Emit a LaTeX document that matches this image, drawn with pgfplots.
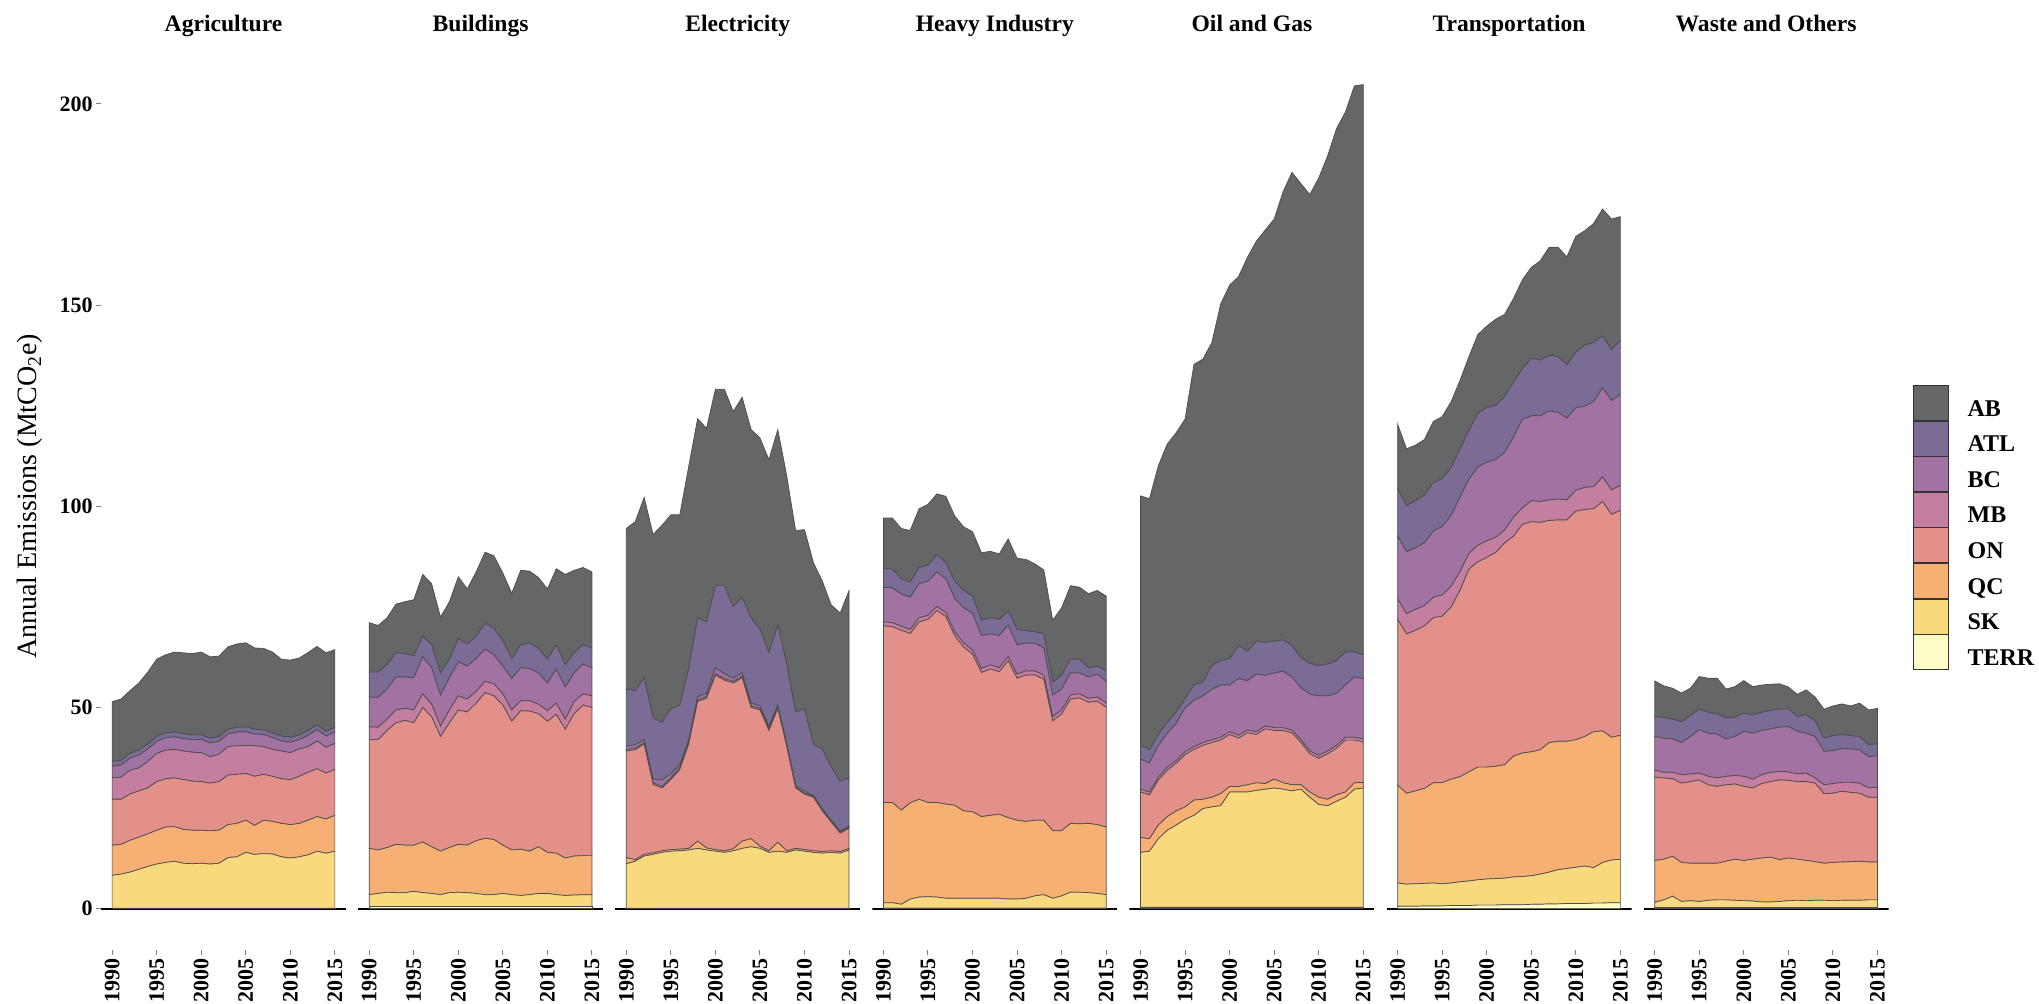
\documentclass[border=0pt]{standalone}
\usepackage{pgfplots}
\pgfplotsset{compat=1.18}
\usepackage{pgfplotstable}
\usepackage{fontspec}
\setmainfont{Liberation Serif}

\definecolor{cAB}{HTML}{656668}
\definecolor{cATL}{HTML}{7B6C96}
\definecolor{cBC}{HTML}{A272A3}
\definecolor{cMB}{HTML}{C47E9F}
\definecolor{cON}{HTML}{E38F8A}
\definecolor{cQC}{HTML}{F6B074}
\definecolor{cSK}{HTML}{F9D97E}
\definecolor{cTERR}{HTML}{FCFDC6}

\pgfplotstableread{
yr TERR SK QC ON MB BC ATL AB
1990 0.1 8.2 7.5 11.4 5.3 2.9 1.2 14.9
1991 0.1 8.5 7.4 11.2 5.5 3.0 1.2 15.2
1992 0.1 9.0 7.9 11.5 5.9 3.0 1.2 15.6
1993 0.1 9.7 8.0 11.5 5.7 3.2 1.2 16.7
1994 0.1 10.4 8.1 11.4 6.6 3.1 1.2 17.9
1995 0.1 11.0 8.4 12.1 7.0 3.0 1.2 19.2
1996 0.1 11.4 8.8 12.0 7.1 3.1 1.2 19.4
1997 0.1 11.7 8.6 12.1 7.1 3.1 1.2 19.9
1998 0.1 11.2 8.4 12.4 7.1 3.1 1.2 20.1
1999 0.1 11.1 8.3 12.2 7.2 3.1 1.2 20.2
2000 0.1 11.2 8.2 12.1 7.2 3.3 1.2 20.5
2001 0.1 11.0 8.3 11.8 6.6 3.4 1.2 20.2
2002 0.1 11.2 8.2 12.1 6.8 3.2 1.2 20.0
2003 0.1 12.6 8.2 12.3 7.1 3.1 1.2 20.5
2004 0.1 12.8 8.3 12.2 7.1 3.4 1.2 20.7
2005 0.1 13.9 8.0 11.6 7.0 3.4 1.2 20.9
2006 0.1 13.4 7.2 12.2 7.6 2.9 1.2 20.2
2007 0.1 13.6 8.3 11.4 6.9 3.0 1.2 20.2
2008 0.1 13.5 8.1 11.2 6.7 2.9 1.2 20.1
2009 0.1 12.8 8.3 11.1 6.9 2.5 1.2 19.1
2010 0.1 12.5 8.3 11.2 6.7 2.6 1.2 19.2
2011 0.1 12.8 8.3 11.7 6.8 2.3 1.2 19.1
2012 0.1 13.3 8.6 11.9 6.4 2.8 1.2 19.4
2013 0.1 14.2 8.6 11.9 6.9 2.8 1.2 19.5
2014 0.1 13.7 8.5 11.4 6.4 2.8 1.2 19.5
2015 0.1 14.2 8.9 11.4 6.5 2.8 1.2 19.3
}\agri

\pgfplotstableread{
yr TERR SK QC ON MB BC ATL AB
1990 0.5 3.0 11.5 27.0 3.2 7.4 6.2 12.3
1991 0.5 3.3 10.8 27.4 3.1 7.4 6.3 11.6
1992 0.5 3.6 11.1 29.1 2.8 7.5 6.0 11.7
1993 0.5 3.5 12.0 30.2 3.2 8.2 6.1 12.0
1994 0.5 3.5 11.8 31.0 3.0 7.8 5.8 12.9
1995 0.5 3.8 11.5 30.4 3.2 8.0 5.5 13.9
1996 0.5 3.5 12.6 33.4 3.4 9.2 5.1 15.4
1997 0.5 3.3 11.6 32.3 3.1 9.1 5.7 15.2
1998 0.5 3.0 10.8 28.5 2.6 7.7 5.5 13.9
1999 0.5 3.5 11.2 31.0 3.2 8.0 4.6 14.3
2000 0.5 3.6 11.9 33.4 3.5 8.5 5.7 15.4
2001 0.5 3.5 11.8 33.1 3.2 8.2 5.5 13.7
2002 0.5 3.3 13.1 34.2 2.9 8.2 5.5 16.0
2003 0.5 3.0 14.0 36.2 2.8 8.0 6.4 17.7
2004 0.5 3.0 13.7 35.7 3.0 7.2 6.6 18.0
2005 0.5 3.3 12.0 34.8 2.8 6.9 6.3 16.8
2006 0.5 3.0 11.1 32.0 2.8 7.8 5.0 16.2
2007 0.5 2.8 11.5 34.4 2.5 8.2 5.7 18.5
2008 0.5 3.0 10.8 34.8 2.6 8.0 6.3 17.9
2009 0.5 3.3 11.6 33.1 2.3 7.8 6.1 17.6
2010 0.5 3.3 10.2 32.6 2.6 6.9 5.9 17.5
2011 0.5 3.0 10.3 34.5 2.8 8.4 6.1 18.9
2012 0.5 2.8 9.3 32.0 2.5 8.0 5.5 22.5
2013 0.5 2.9 9.7 35.4 3.0 7.1 5.1 20.4
2014 0.5 3.0 9.7 37.4 2.8 7.4 4.8 19.2
2015 0.5 3.0 9.7 36.8 2.9 7.0 4.9 18.9
}\bldg

\pgfplotstableread{
yr TERR SK QC ON MB BC ATL AB
1990 0.1 11.1 1.5 26.5 0.4 0.8 14.2 39.9
1991 0.1 11.7 0.4 27.3 0.4 0.8 13.5 42.0
1992 0.1 13.0 0.4 27.4 0.4 0.8 15.3 44.8
1993 0.1 13.4 0.4 17.0 0.4 0.9 15.2 45.6
1994 0.1 13.9 0.4 15.6 0.4 1.6 14.3 49.0
1995 0.1 14.2 0.4 17.4 0.4 1.0 16.2 48.2
1996 0.1 14.3 0.4 19.8 0.4 0.8 14.8 47.3
1997 0.1 14.5 0.4 25.9 0.4 0.6 17.8 50.2
1998 0.1 14.9 1.8 34.7 0.4 0.8 19.6 49.5
1999 0.1 14.5 0.5 37.2 0.4 0.8 17.8 48.1
2000 0.1 14.2 0.4 43.3 0.4 1.5 20.4 48.8
2001 0.1 13.9 0.4 42.4 0.4 1.2 21.9 48.8
2002 0.1 14.3 0.5 41.2 0.4 0.8 17.8 48.5
2003 0.1 14.9 1.8 40.6 0.4 0.8 18.8 49.7
2004 0.1 15.3 2.0 32.6 0.4 0.7 21.2 46.8
2005 0.1 14.9 0.5 33.9 0.4 0.6 19.0 47.6
2006 0.1 13.9 0.4 29.9 0.4 0.6 18.4 47.9
2007 0.1 14.2 2.2 33.2 0.4 0.5 19.9 48.6
2008 0.1 13.9 0.4 25.9 0.2 0.5 19.8 46.8
2009 0.1 14.5 0.4 15.0 0.2 0.5 18.2 45.1
2010 0.1 14.2 0.4 13.8 0.2 0.5 20.5 44.5
2011 0.1 13.9 0.4 13.3 0.2 0.3 12.7 45.1
2012 0.1 13.7 0.4 10.1 0.2 0.3 14.9 41.7
2013 0.1 13.9 0.4 7.1 0.2 0.3 13.2 40.3
2014 0.1 13.7 0.4 4.6 0.2 0.3 12.4 41.8
2015 0.1 14.5 0.4 5.0 0.2 0.3 12.0 46.6
}\elec

\pgfplotstableread{
yr TERR SK QC ON MB BC ATL AB
1990 0.2 1.3 24.9 43.9 1.0 8.6 4.6 12.6
1991 0.2 1.3 24.9 43.7 1.0 8.6 4.8 12.6
1992 0.2 0.9 23.4 44.7 1.0 8.0 3.8 12.5
1993 0.2 2.2 23.9 42.1 1.0 8.0 3.8 12.8
1994 0.2 2.7 24.3 44.1 1.0 8.5 4.0 14.6
1995 0.2 2.8 23.4 45.5 1.0 8.5 4.0 15.1
1996 0.2 2.7 23.5 47.7 1.0 8.6 4.3 15.1
1997 0.2 2.4 23.4 46.6 1.0 8.4 4.0 16.5
1998 0.2 2.4 23.1 42.1 1.0 8.3 4.3 16.2
1999 0.2 2.4 21.7 40.7 1.0 8.8 4.3 15.8
2000 0.2 2.4 21.5 39.2 1.0 9.1 4.3 16.0
2001 0.2 2.4 20.3 35.8 1.0 8.2 3.8 16.8
2002 0.2 2.4 20.6 36.4 1.0 7.7 4.0 16.5
2003 0.2 2.4 20.9 35.4 1.0 8.0 4.0 16.3
2004 0.2 2.2 20.2 39.0 1.0 7.9 3.5 17.9
2005 0.2 2.2 19.6 35.3 1.0 7.3 3.8 17.7
2006 0.2 2.4 19.1 36.4 1.0 6.9 3.1 17.7
2007 0.2 3.0 18.8 36.1 1.0 6.9 2.8 16.9
2008 0.2 3.3 18.5 35.0 1.0 6.8 3.5 15.9
2009 0.2 2.4 16.8 27.3 1.0 5.4 3.2 15.4
2010 0.2 3.0 16.2 29.0 1.0 5.2 3.4 16.8
2011 0.2 3.9 17.1 30.9 1.0 5.5 3.4 18.3
2012 0.2 3.9 17.0 31.3 1.0 5.2 3.4 17.9
2013 0.2 3.8 17.2 30.1 1.0 5.3 2.3 18.4
2014 0.2 3.6 17.1 30.7 1.0 5.7 2.0 18.8
2015 0.2 3.3 16.8 29.8 1.0 5.4 2.6 18.6
}\heavy

\pgfplotstableread{
yr TERR SK QC ON MB BC ATL AB
1990 0.4 13.6 3.7 11.3 0.7 7.5 3.4 62.0
1991 0.4 13.9 3.1 10.9 0.7 7.2 3.3 62.4
1992 0.4 17.0 3.4 11.2 0.7 7.9 2.7 66.8
1993 0.4 19.1 3.4 11.5 0.7 8.5 2.7 69.2
1994 0.4 20.4 3.5 11.8 0.7 9.2 2.8 69.5
1995 0.4 21.8 3.1 13.0 0.7 10.9 2.3 69.5
1996 0.4 22.8 3.8 12.6 0.7 11.5 3.8 79.7
1997 0.4 24.5 2.3 13.4 0.7 11.6 3.4 80.3
1998 0.4 24.9 2.4 13.6 0.7 12.5 5.9 80.3
1999 0.4 25.2 3.0 13.3 0.7 13.0 6.1 88.6
2000 0.4 28.6 1.4 12.9 0.7 11.6 6.5 92.9
2001 0.4 28.6 1.4 12.0 0.7 14.1 8.2 91.7
2002 0.4 28.6 1.8 12.9 0.7 12.3 7.3 97.9
2003 0.4 29.0 1.9 12.0 0.7 14.3 8.2 99.4
2004 0.4 29.3 1.4 13.6 0.7 12.6 8.2 102.5
2005 0.4 29.6 2.2 12.1 0.7 13.6 7.9 104.9
2006 0.4 29.3 1.6 13.0 0.7 14.0 7.8 111.4
2007 0.4 28.9 1.5 12.9 0.7 13.2 7.8 117.6
2008 0.4 29.3 1.1 10.5 0.7 12.9 7.5 117.8
2009 0.4 27.3 1.3 9.5 0.7 14.1 7.7 116.5
2010 0.4 25.5 1.8 9.7 0.7 14.8 7.5 121.2
2011 0.4 25.2 1.6 11.3 0.7 13.7 7.9 126.3
2012 0.4 26.3 1.6 11.6 0.7 12.9 8.2 132.2
2013 0.4 27.3 1.3 12.9 0.7 13.0 8.2 134.2
2014 0.4 29.3 1.6 10.6 0.7 15.0 6.2 140.7
2015 0.4 29.6 1.3 10.2 0.7 15.0 5.9 141.7
}\oilgas

\pgfplotstableread{
yr TERR SK QC ON MB BC ATL AB
1990 0.6 5.8 24.3 41.2 5.1 15.6 11.7 16.1
1991 0.6 5.5 22.6 39.6 5.0 15.4 11.5 14.1
1992 0.6 5.6 23.1 39.9 5.2 15.3 11.7 13.8
1993 0.7 5.6 23.6 40.4 5.0 15.6 11.9 13.8
1994 0.7 5.7 24.9 41.0 5.1 16.4 12.1 15.2
1995 0.7 5.5 25.1 41.4 5.3 17.0 11.9 15.4
1996 0.8 5.6 25.8 42.8 5.1 17.6 11.9 16.4
1997 0.8 5.9 26.1 46.3 4.7 18.5 12.0 17.0
1998 0.8 6.1 27.1 50.4 3.9 18.4 12.1 18.4
1999 0.9 6.3 28.0 51.0 4.1 19.5 13.3 19.6
2000 0.9 6.5 27.8 52.1 4.1 19.6 13.6 20.2
2001 0.9 6.6 27.9 53.1 3.8 19.3 13.5 21.4
2002 1.0 6.6 28.2 55.1 3.2 19.3 13.8 20.5
2003 1.0 6.9 30.0 54.7 4.7 19.9 13.7 20.7
2004 1.0 7.0 30.7 56.8 4.1 22.0 12.6 22.1
2005 1.1 7.1 30.8 57.2 5.2 21.1 14.3 22.6
2006 1.1 7.5 30.9 56.5 5.2 21.3 13.8 24.7
2007 1.2 7.9 32.2 55.2 5.1 22.1 13.8 26.9
2008 1.2 8.5 31.9 55.0 5.2 21.6 13.8 27.2
2009 1.3 8.7 31.6 55.0 5.0 20.3 13.3 26.8
2010 1.3 9.0 31.7 56.8 5.2 20.5 13.8 28.8
2011 1.3 9.3 32.2 56.4 5.5 20.2 15.2 28.4
2012 1.4 8.8 33.8 55.4 5.5 21.1 14.7 29.6
2013 1.4 10.1 32.7 57.0 6.1 22.2 12.9 31.5
2014 1.5 10.6 30.5 55.4 6.1 22.2 12.6 32.5
2015 1.5 10.8 30.8 55.9 6.2 22.6 13.5 30.7
}\transp

\pgfplotstableread{
yr TERR SK QC ON MB BC ATL AB
1990 0.3 1.3 10.4 20.7 1.7 8.4 5.0 8.8
1991 0.3 1.9 10.1 20.2 1.4 8.5 5.1 7.9
1992 0.3 2.8 9.9 19.3 1.6 8.3 4.9 7.7
1993 0.3 1.5 9.7 19.7 2.1 8.0 5.2 7.1
1994 0.3 1.7 9.3 20.3 1.9 9.3 5.2 6.8
1995 0.3 1.5 9.5 20.7 1.7 10.8 5.1 8.1
1996 0.3 1.8 9.2 19.5 2.1 10.7 5.2 8.5
1997 0.3 1.9 9.1 19.1 2.1 10.9 5.0 8.9
1998 0.3 1.9 9.6 19.0 2.1 9.3 5.2 7.2
1999 0.3 1.8 10.2 18.7 2.1 9.7 4.8 7.6
2000 0.3 1.7 10.0 18.4 2.5 11.2 4.5 8.1
2001 0.3 1.6 10.4 17.7 2.2 11.4 4.6 7.0
2002 0.3 1.4 10.9 18.5 2.2 11.0 4.5 6.8
2003 0.3 1.4 11.1 18.8 2.3 10.8 4.6 6.5
2004 0.3 1.5 10.4 19.8 2.1 11.0 4.5 6.3
2005 0.3 1.7 10.6 19.3 2.1 11.3 4.4 5.4
2006 0.3 1.8 10.2 19.3 1.9 10.6 3.7 5.5
2007 0.3 1.7 10.0 19.6 2.1 9.9 4.6 6.2
2008 0.3 1.8 9.6 19.5 1.3 10.3 3.9 5.9
2009 0.3 1.8 9.2 17.3 2.2 8.3 3.3 7.2
2010 0.3 1.7 9.5 17.2 2.4 8.2 3.7 7.4
2011 0.3 1.8 9.5 17.6 2.2 8.4 3.6 7.5
2012 0.3 1.8 9.6 17.2 2.5 8.3 3.3 7.4
2013 0.3 1.8 9.7 16.9 2.5 8.3 3.3 8.3
2014 0.3 1.9 9.4 16.1 2.3 7.8 3.0 8.6
2015 0.3 1.9 9.4 16.1 2.5 7.8 3.0 8.8
}\waste

\pgfplotsset{
  panel/.style={
    scale only axis, width=122.5pt, height=453.7pt,
    anchor=south west,
    xmin=1988.75, xmax=2016.25, ymin=-10.25, ymax=215.25,
    stack plots=y,
    axis line style={draw=none},
    xtick={1990,1995,2000,2005,2010,2015},
    ytick=\empty,
    xtick pos=bottom, ytick pos=left,
    tick align=outside,
    major tick length=2.5pt,
    tick style={gray, line width=0.5pt},
    xticklabel style={rotate=90, anchor=east, inner sep=1.5pt,
      font=\bfseries\fontsize{11}{11}\selectfont},
    yticklabel style={inner sep=1.5pt, font=\bfseries\fontsize{11}{11}\selectfont},
    /pgf/number format/1000 sep={},
    /pgf/number format/assume math mode=true,
    title style={font=\bfseries\fontsize{11.8}{12}\selectfont,
      at={(axis description cs:0.5,1)}, anchor=base, yshift=-0.4pt},
    legend image code/.code={\draw[#1, draw=black!80, line width=0.3pt]
      (0pt,-5.3pt) rectangle (17.5pt,12.2pt);},
  },
  lay/.style={fill=#1, draw=black!70, line width=0.35pt},
}

\newcommand{\layers}[1]{%
  \addplot[lay=cTERR] table[x=yr,y=TERR]{#1} \closedcycle;
  \addplot[lay=cSK]   table[x=yr,y=SK]{#1} \closedcycle;
  \addplot[lay=cQC]   table[x=yr,y=QC]{#1} \closedcycle;
  \addplot[lay=cON]   table[x=yr,y=ON]{#1} \closedcycle;
  \addplot[lay=cMB]   table[x=yr,y=MB]{#1} \closedcycle;
  \addplot[lay=cBC]   table[x=yr,y=BC]{#1} \closedcycle;
  \addplot[lay=cATL]  table[x=yr,y=ATL]{#1} \closedcycle;
  \addplot[lay=cAB]   table[x=yr,y=AB]{#1} \closedcycle;
  \draw[black, line width=0.8pt] (axis cs:1988.75,0) -- (axis cs:2016.25,0);
}

\begin{document}
\begin{tikzpicture}
\useasboundingbox (0,0) rectangle (1019.5pt,502pt);

\begin{axis}[panel, at={(50.5pt,27pt)}, title={Agriculture},
  ytick={0,50,100,150,200},
  ylabel={Annual Emissions (MtCO\textsubscript{2}e)},
  ylabel style={at={(axis description cs:-0.2898,0.5)}, anchor=center,
    font=\fontsize{14}{14}\selectfont}]
\layers{\agri}
\end{axis}

\begin{axis}[panel, at={(179.05pt,27pt)}, title={Buildings}]
\layers{\bldg}
\end{axis}

\begin{axis}[panel, at={(307.6pt,27pt)}, title={Electricity}]
\layers{\elec}
\end{axis}

\begin{axis}[panel, at={(436.15pt,27pt)}, title={Heavy Industry}]
\layers{\heavy}
\end{axis}

\begin{axis}[panel, at={(564.7pt,27pt)}, title={Oil and Gas}]
\layers{\oilgas}
\end{axis}

\begin{axis}[panel, at={(693.25pt,27pt)}, title={Transportation}]
\layers{\transp}
\end{axis}

\begin{axis}[panel, at={(821.8pt,27pt)}, title={Waste and Others},
  reverse legend,
  legend cell align=left,
  legend style={at={(axis description cs:1.0996,0.6227)}, anchor=north west,
    draw=none, fill=none, inner sep=0pt, outer sep=0pt,
    row sep=0pt, column sep=9.5pt,
    nodes={inner sep=0pt, outer sep=0pt},
    font=\bfseries\fontsize{12}{12}\selectfont}]
\layers{\waste}
\legend{TERR,SK,QC,ON,MB,BC,ATL,AB}
\end{axis}
\end{tikzpicture}
\end{document}
